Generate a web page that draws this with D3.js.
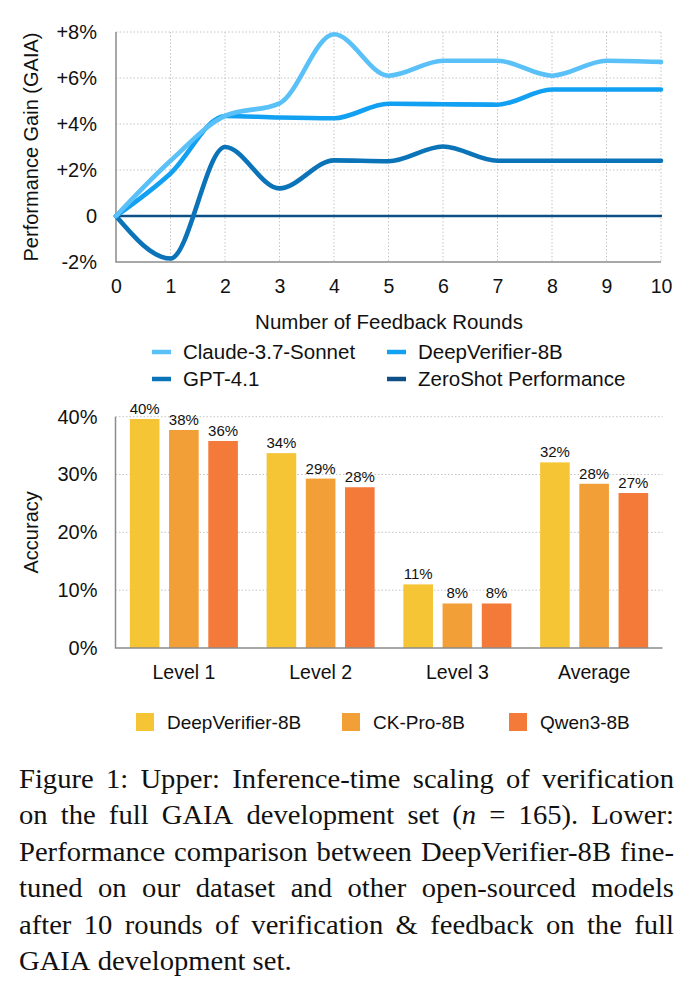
<!DOCTYPE html>
<html>
<head>
<meta charset="utf-8">
<script src="https://cdn.jsdelivr.net/npm/d3@7"></script>
<style>
    body { margin: 0; background: #fff; }
    svg text { font-family: "Liberation Sans", Arial, Helvetica, sans-serif; fill: #111; }
    svg text.caption { font-family: "Liberation Serif", "Times New Roman", serif; }
</style>
</head>
<body>
<svg id="fig" width="694" height="991"></svg>
<script>

/*********************/
/*** INIT VARIABLE ***/
/*********************/

// upper chart: performance gain per feedback round (in %)
const rounds = [0, 1, 2, 3, 4, 5, 6, 7, 8, 9, 10];
const claude_gain = [0, 2.4, 4.35, 4.9, 7.9, 6.1, 6.75, 6.75, 6.1, 6.75, 6.7];
const deepverifier_gain = [0, 1.85, 4.35, 4.28, 4.25, 4.88, 4.86, 4.84, 5.5, 5.5, 5.5];
const gpt41_gain = [0, -1.85, 3.0, 1.2, 2.42, 2.38, 3.02, 2.4, 2.4, 2.4, 2.4];
const zeroshot_gain = [0, 0, 0, 0, 0, 0, 0, 0, 0, 0, 0];
const gain_ticks = [-2, 0, 2, 4, 6, 8];

const line_names = ["Claude-3.7-Sonnet", "DeepVerifier-8B", "GPT-4.1", "ZeroShot Performance"];
const line_colors = ["#5ac0f8", "#12a0f2", "#0b74b9", "#0d4f86"];
const line_widths = [4.6, 4.6, 4.6, 2.3];

// lower chart: accuracy after 10 rounds
const levels = ["Level 1", "Level 2", "Level 3", "Average"];
const bar_models = ["DeepVerifier-8B", "CK-Pro-8B", "Qwen3-8B"];
const deepverifier_acc = [0.396, 0.337, 0.110, 0.321];
const ckpro_acc = [0.377, 0.293, 0.077, 0.284];
const qwen_acc = [0.358, 0.278, 0.077, 0.268];
const acc_ticks = [0, 0.1, 0.2, 0.3, 0.4];
const bar_colors = ["#f5c536", "#f39f37", "#f47a3a"];

const caption_lines = [
    "Figure 1: Upper: Inference-time scaling of verification",
    "on the full GAIA development set (*n* = 165). Lower:",
    "Performance comparison between DeepVerifier-8B fine-",
    "tuned on our dataset and other open-sourced models",
    "after 10 rounds of verification & feedback on the full",
    "GAIA development set."
];

let svg = d3.select("#fig");

const grid_color = "#c4c4c4",
      axis_color = "#8c8c8c";

/********************************/
/*** UPPER CHART: LINE CHART  ***/
/********************************/

let up = {left: 116, right: 661, top: 32, bottom: 262};

let x = d3.scaleLinear().domain([0, 10]).range([up.left, up.right]),
    y = d3.scaleLinear().domain([-2, 8]).range([up.bottom, up.top]);

// dotted grid
svg.append("g").selectAll("line")
    .data(rounds.slice(1)).enter()
    .append("line")
    .attr("x1", (d) => x(d)).attr("x2", (d) => x(d))
    .attr("y1", up.top).attr("y2", up.bottom)
    .attr("stroke", grid_color).attr("stroke-dasharray", "1.5,2");

svg.append("g").selectAll("line")
    .data(gain_ticks.slice(1)).enter()
    .append("line")
    .attr("x1", up.left).attr("x2", up.right)
    .attr("y1", (d) => y(d)).attr("y2", (d) => y(d))
    .attr("stroke", grid_color).attr("stroke-dasharray", "1.5,2");

// axes (labels only, lines drawn separately)
svg.append("g")
    .attr("transform", "translate(0," + up.bottom + ")")
    .call(d3.axisBottom(x).tickValues(rounds).tickSize(0).tickPadding(17).tickFormat(d3.format("d")))
    .call((g) => g.select(".domain").remove())
    .selectAll("text").style("font-size", "19.5px").attr("fill", "#111");

svg.append("g")
    .attr("transform", "translate(" + up.left + ",0)")
    .call(d3.axisLeft(y).tickValues(gain_ticks).tickSize(0).tickPadding(19)
        .tickFormat((d) => d === 0 ? "0" : (d > 0 ? "+" : "") + d + "%"))
    .call((g) => g.select(".domain").remove())
    .selectAll("text").style("font-size", "20px").attr("fill", "#111");

svg.append("path")
    .attr("d", "M" + up.left + "," + up.top + "V" + up.bottom + "H" + up.right)
    .attr("fill", "none").attr("stroke", axis_color).attr("stroke-width", 1.5);

// lines
let line = d3.line()
    .x((d, i) => x(rounds[i]))
    .y((d) => y(d))
    .curve(d3.curveMonotoneX);

let line_series = [claude_gain, deepverifier_gain, gpt41_gain, zeroshot_gain];

// draw back to front: zeroshot, gpt, deepverifier, claude
[3, 2, 1, 0].forEach((i) => {
    svg.append("path")
        .datum(line_series[i])
        .attr("d", line)
        .attr("fill", "none")
        .attr("stroke", line_colors[i])
        .attr("stroke-width", line_widths[i])
        .attr("stroke-linecap", "round")
        .attr("stroke-linejoin", "round");
});

// titles
svg.append("text")
    .attr("transform", "translate(38," + ((up.top + up.bottom) / 2) + ") rotate(-90)")
    .attr("text-anchor", "middle")
    .style("font-size", "20px")
    .text("Performance Gain (GAIA)");

svg.append("text")
    .attr("x", 389).attr("y", 329)
    .attr("text-anchor", "middle")
    .style("font-size", "20.5px")
    .text("Number of Feedback Rounds");

// legend (2 x 2)
let up_legend = svg.append("g").selectAll("g")
    .data(line_names).enter()
    .append("g")
    .attr("transform", (d, i) => "translate(" + (i % 2 === 0 ? 152 : 387) + "," + (i < 2 ? 352 : 379) + ")");

up_legend.append("line")
    .attr("x1", 0).attr("x2", 19).attr("y1", 0).attr("y2", 0)
    .attr("stroke", (d, i) => line_colors[i])
    .attr("stroke-width", 4.5);

up_legend.append("text")
    .attr("x", 31).attr("dy", "0.36em")
    .style("font-size", "20.5px")
    .text((d) => d);

/********************************/
/*** LOWER CHART: BAR CHART   ***/
/********************************/

let lo = {left: 115.5, right: 662.5, top: 416.7, bottom: 648};

let bx = d3.scaleBand().domain(levels).range([lo.left, lo.right]).paddingInner(0.21).paddingOuter(0.105),
    bx_inner = d3.scaleBand().domain(bar_models).range([0, bx.bandwidth()]).paddingInner(0.245),
    by = d3.scaleLinear().domain([0, 0.4]).range([lo.bottom, lo.top]);

svg.append("g").selectAll("line")
    .data(acc_ticks.slice(1)).enter()
    .append("line")
    .attr("x1", lo.left).attr("x2", lo.right)
    .attr("y1", (d) => by(d)).attr("y2", (d) => by(d))
    .attr("stroke", grid_color).attr("stroke-dasharray", "1.5,2");

svg.append("g")
    .attr("transform", "translate(" + lo.left + ",0)")
    .call(d3.axisLeft(by).tickValues(acc_ticks).tickSize(0).tickPadding(18).tickFormat(d3.format(".0%")))
    .call((g) => g.select(".domain").remove())
    .selectAll("text").style("font-size", "20px").attr("fill", "#111");

svg.append("g")
    .attr("transform", "translate(0," + lo.bottom + ")")
    .call(d3.axisBottom(bx).tickSize(0).tickPadding(17))
    .call((g) => g.select(".domain").remove())
    .selectAll("text").style("font-size", "19.5px").attr("fill", "#111");

let bar_series = [deepverifier_acc, ckpro_acc, qwen_acc];
let bar_data = [];
levels.forEach((lvl, i) => {
    bar_models.forEach((m, j) => bar_data.push({level: lvl, model: m, value: bar_series[j][i], k: j}));
});

svg.append("g").selectAll("rect")
    .data(bar_data).enter()
    .append("rect")
    .attr("x", (d) => bx(d.level) + bx_inner(d.model))
    .attr("y", (d) => by(d.value))
    .attr("width", bx_inner.bandwidth())
    .attr("height", (d) => by(0) - by(d.value))
    .attr("fill", (d) => bar_colors[d.k]);

svg.append("g").selectAll("text")
    .data(bar_data).enter()
    .append("text")
    .attr("x", (d) => bx(d.level) + bx_inner(d.model) + bx_inner.bandwidth() / 2)
    .attr("y", (d) => by(d.value) - 5)
    .attr("text-anchor", "middle")
    .style("font-size", "15px")
    .text((d) => d3.format(".0%")(d.value));

svg.append("path")
    .attr("d", "M" + lo.left + "," + lo.top + "V" + lo.bottom + "H" + lo.right)
    .attr("fill", "none").attr("stroke", axis_color).attr("stroke-width", 1.5);

svg.append("text")
    .attr("transform", "translate(38," + ((lo.top + lo.bottom) / 2) + ") rotate(-90)")
    .attr("text-anchor", "middle")
    .style("font-size", "20px")
    .text("Accuracy");

let lo_legend = svg.append("g").selectAll("g")
    .data(bar_models).enter()
    .append("g")
    .attr("transform", (d, i) => "translate(" + [136, 342, 509][i] + ",713)");

lo_legend.append("rect")
    .attr("width", 18).attr("height", 18)
    .attr("fill", (d, i) => bar_colors[i]);

lo_legend.append("text")
    .attr("x", 31).attr("y", 9).attr("dy", "0.36em")
    .style("font-size", "19px")
    .text((d) => d);

/********************************/
/*** CAPTION (JUSTIFIED)      ***/
/********************************/

let cap_left = 19, cap_width = 655, cap_scale = 1.06, cap_size = 27;
let cap = svg.append("g")
    .attr("transform", "translate(" + cap_left + ",0) scale(" + cap_scale + ",1)");

caption_lines.forEach((txt, li) => {
    let base = 788 + li * 36.4;
    let words = txt.split(" ").map((w) => {
        let t = cap.append("text").classed("caption", true)
            .attr("y", base).style("font-size", cap_size + "px");
        w.split("*").forEach((seg, k) => {
            if (seg.length) t.append("tspan").style("font-style", k % 2 ? "italic" : "normal").text(seg);
        });
        return t;
    });
    let widths = words.map((t) => t.node().getComputedTextLength());
    let total = d3.sum(widths),
        avail = cap_width / cap_scale,
        last = li === caption_lines.length - 1,
        gap = last ? cap_size * 0.25 : (avail - total) / (words.length - 1);
    let pos = 0;
    words.forEach((t, k) => {
        t.attr("x", pos);
        pos += widths[k] + gap;
    });
});

</script>
</body>
</html>
